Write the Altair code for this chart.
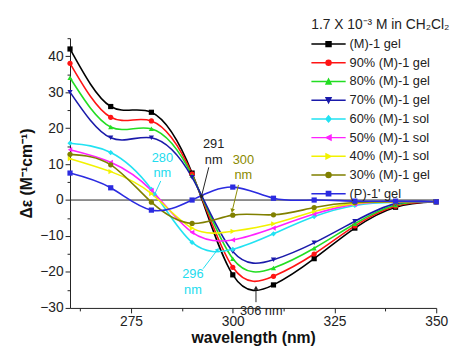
import math
import altair as alt
import pandas as pd

wavelength = [260, 270, 280, 290, 300, 310, 320, 330, 340, 350]

series_names = ["(M)-1 gel", "90% (M)-1 gel", "80% (M)-1 gel", "70% (M)-1 gel",
                "60% (M)-1 sol", "50% (M)-1 sol", "40% (M)-1 sol", "30% (M)-1 gel",
                "(P)-1' gel"]
m_gel   = [42.0, 26.0, 24.4, 7.5, -20.8, -23.6, -16.3, -7.8, -2.0, -0.5]
m90_gel = [38.0, 23.0, 22.0, 7.2, -18.7, -21.2, -15.0, -7.2, -1.7, -0.5]
m80_gel = [34.0, 20.3, 19.8, 6.8, -16.3, -18.9, -13.4, -6.6, -1.4, -0.5]
m70_gel = [30.0, 17.3, 17.3, 6.3, -14.3, -16.6, -11.9, -5.9, -1.0, -0.5]
m60_sol = [15.8, 13.2, 3.0, -11.8, -13.7, -9.4, -4.6, -1.5, -0.6, -0.5]
m50_sol = [14.0, 10.5, 2.7, -9.0, -11.1, -7.8, -3.9, -1.2, -0.5, -0.5]
m40_sol = [11.5, 7.9, 1.8, -7.8, -8.7, -6.6, -3.2, -1.0, -0.5, -0.5]
m30_gel = [12.7, 9.8, -0.6, -6.5, -4.2, -4.1, -2.1, -0.7, -0.5, -0.5]
p_gel   = [7.5, 3.4, -2.8, 0.0, 3.6, 0.5, 0.0, -0.3, -0.3, -0.5]
series_values = [m_gel, m90_gel, m80_gel, m70_gel, m60_sol, m50_sol, m40_sol, m30_gel, p_gel]

colors = ["#000000", "#ff1414", "#22dd22", "#1a1aaa", "#22e2f2", "#ff22ff",
          "#f2f200", "#808000", "#2b2be0"]
shapes = ["square", "circle", "triangle-up", "triangle-down", "diamond",
          "triangle-left", "triangle-right", "circle", "square"]

y_major = [-30, -20, -10, 0, 10, 20, 30, 40]
y_minor = [-25, -15, -5, 5, 15, 25, 35, 45]
x_ticks = [262.5, 275, 287.5, 300, 312.5, 325, 337.5, 350]

legend_title = "1.7 X 10⁻³ M in CH₂Cl₂"

# legend symbols: a line with the marker on it (unit paths, line runs left of the symbol box)
L0, L1 = -4.8, 1.0
c = (L0 + L1) / 2
m = 0.42
def lp(marker):
    return f"M{L0},0H{L1}" + marker
def sq(h):
    return f"M{c-h},{-h}H{c+h}V{h}H{c-h}Z"
def circ(h):
    return f"M{c-h},0A{h},{h} 0 1 0 {c+h},0A{h},{h} 0 1 0 {c-h},0Z"
legend_paths = [
    lp(sq(m)),
    lp(circ(m)),
    lp(f"M{c},{-m}L{c+m},{m}L{c-m},{m}Z"),
    lp(f"M{c},{m}L{c+m},{-m}L{c-m},{-m}Z"),
    lp(f"M{c},{-m*1.2}L{c+m},0L{c},{m*1.2}L{c-m},0Z"),
    lp(f"M{c-m},0L{c+m},{-m}L{c+m},{m}Z"),
    lp(f"M{c+m},0L{c-m},{-m}L{c-m},{m}Z"),
    lp(circ(m)),
    lp(sq(0.36)),
]

# annotations
ann_text = ["280", "nm", "291", "nm", "300", "nm", "296", "nm", "306 nm"]
ann_x = [282.7, 282.7, 295.3, 295.3, 302.6, 302.6, 290.2, 290.2, 307.0]
ann_y = [11.6, 7.5, 15.7, 11.1, 11.1, 7.0, -20.7, -25.1, -30.9]
ann_col = ["#22dcee", "#22dcee", "#222222", "#222222", "#8a8a00", "#8a8a00",
           "#22dcee", "#22dcee", "#222222"]

arr_x1 = [282.3, 294.1, 301.4, 292.7, 305.7]
arr_y1 = [5.3, 9.1, 4.2, -19.1, -28.4]
arr_x2 = [280.8, 292.3, 299.9, 296.2, 305.7]
arr_y2 = [1.6, 1.0, -2.8, -13.9, -24.6]
arr_col = ["#22dcee", "#222222", "#8a8a00", "#22dcee", "#222222"]

rows = []
for name, vals in zip(series_names, series_values):
    for w, v in zip(wavelength, vals):
        rows.append({"series": name, "wavelength": w, "de": v})
df = pd.DataFrame(rows)

PXX = 372 / 90.0
PXY = 274 / 75.0
angles = []
for a, b, c2, d in zip(arr_x1, arr_y1, arr_x2, arr_y2):
    dx = (c2 - a) * PXX
    dy = (d - b) * PXY
    angles.append(math.degrees(math.atan2(dx, dy)) % 360)
arr_df = pd.DataFrame({"x1": arr_x1, "y1": arr_y1, "x2": arr_x2, "y2": arr_y2,
                       "col": arr_col, "ang": angles})
ann_df = pd.DataFrame({"x": ann_x, "y": ann_y, "t": ann_text, "col": ann_col})
title_df = pd.DataFrame({"x": [319.3], "y": [48.6], "t": [legend_title]})

FONT = "Liberation Sans"
xs = alt.Scale(domain=[260, 350], nice=False, zero=False)
ys = alt.Scale(domain=[-30, 45], nice=False, zero=False)

x_axis = alt.Axis(values=x_ticks,
                  labelExpr="datum.value % 25 == 0 ? datum.label : ''",
                  tickSize={"condition": {"test": "datum.value % 25 == 0", "value": 5}, "value": 3},
                  labelOverlap=False, labelFlush=False, grid=False,
                  title="wavelength (nm)", titleFontSize=16, titleFontWeight="bold",
                  titlePadding=1, labelPadding=2)
y_axis = alt.Axis(values=y_major, tickSize=5, orient="left",
                  labelOverlap=False, labelFlush=False, grid=False,
                  title="Δε (M⁻¹cm⁻¹)", titleFontSize=16, titleFontWeight="bold",
                  titlePadding=5, labelPadding=2)
y_minor_axis = alt.Axis(values=y_minor, tickSize=3, orient="left", labels=False,
                        domain=False, grid=False, title=None)

def X(f):
    return alt.X(f, scale=xs, axis=x_axis)
def Y(f, axis=None):
    return alt.Y(f, scale=ys, axis=axis)

base = alt.Chart(df)

zero = alt.Chart(pd.DataFrame({"z": [0]})).mark_rule(color="#222222", strokeWidth=1).encode(
    y=Y("z:Q", y_axis))

minor = alt.Chart(pd.DataFrame({"z": [0]})).mark_rule(opacity=0).encode(
    y=Y("z:Q", y_minor_axis))

lines = base.mark_line(interpolate="natural", strokeWidth=1.6).encode(
    x=X("wavelength:Q"),
    y=Y("de:Q"),
    color=alt.Color("series:N", scale=alt.Scale(domain=series_names, range=colors), legend=None),
    detail="series:N",
)

points = base.mark_point(filled=True, size=28, opacity=1).encode(
    x=X("wavelength:Q"),
    y=Y("de:Q"),
    color=alt.Color("series:N", scale=alt.Scale(domain=series_names, range=colors), legend=None),
    shape=alt.Shape("series:N", scale=alt.Scale(domain=series_names, range=shapes), legend=None),
)

legend = alt.Legend(title=None, orient="none", legendX=267, legendY=-1,
                    symbolSize=144, symbolStrokeWidth=1.5, symbolOpacity=1,
                    labelFont=FONT, labelFontSize=13, labelColor="#222222",
                    rowPadding=5, labelOffset=3, padding=0, labelLimit=300)

leg_layer = base.mark_point(opacity=0, filled=True).encode(
    x=X("wavelength:Q"),
    y=Y("de:Q"),
    shape=alt.Shape("series:N", scale=alt.Scale(domain=series_names, range=legend_paths), legend=legend),
    fill=alt.Fill("series:N", scale=alt.Scale(domain=series_names, range=colors), legend=legend),
    stroke=alt.Stroke("series:N", scale=alt.Scale(domain=series_names, range=colors), legend=legend),
)

title_text = alt.Chart(title_df).mark_text(font=FONT, fontSize=14, align="left", color="#222222").encode(
    x=X("x:Q"), y=Y("y:Q"), text="t:N")

texts = alt.Chart(ann_df).mark_text(font=FONT, fontSize=13).encode(
    x=X("x:Q"), y=Y("y:Q"), text="t:N",
    color=alt.Color("col:N", scale=None))

arrows = alt.Chart(arr_df).mark_rule(strokeWidth=1).encode(
    x=X("x1:Q"), y=Y("y1:Q"), x2="x2:Q", y2="y2:Q",
    color=alt.Color("col:N", scale=None))

heads = alt.Chart(arr_df).mark_point(shape="triangle", filled=True, size=22, opacity=1).encode(
    x=X("x2:Q"), y=Y("y2:Q"),
    angle=alt.Angle("ang:Q", scale=None),
    color=alt.Color("col:N", scale=None))

chart = alt.layer(zero, minor, lines, points, leg_layer, arrows, heads, texts, title_text).resolve_scale(
    shape="independent", color="independent", fill="independent", stroke="independent"
).resolve_axis(y="independent").properties(
    width=372, height=274,
    background="white",
    autosize=alt.AutoSizeParams(type="none"),
    padding={"left": 63, "top": 28, "right": 15, "bottom": 36},
).configure_view(stroke=None).configure_axis(
    labelFont=FONT, labelFontSize=14, labelColor="#222222",
    titleFont=FONT, titleColor="#111111", labelOverlap=False,
    domainColor="#222222", tickColor="#222222", domainWidth=1, tickWidth=1,
)

chart.save("out.html", embed_options={"renderer": "svg", "actions": False})
